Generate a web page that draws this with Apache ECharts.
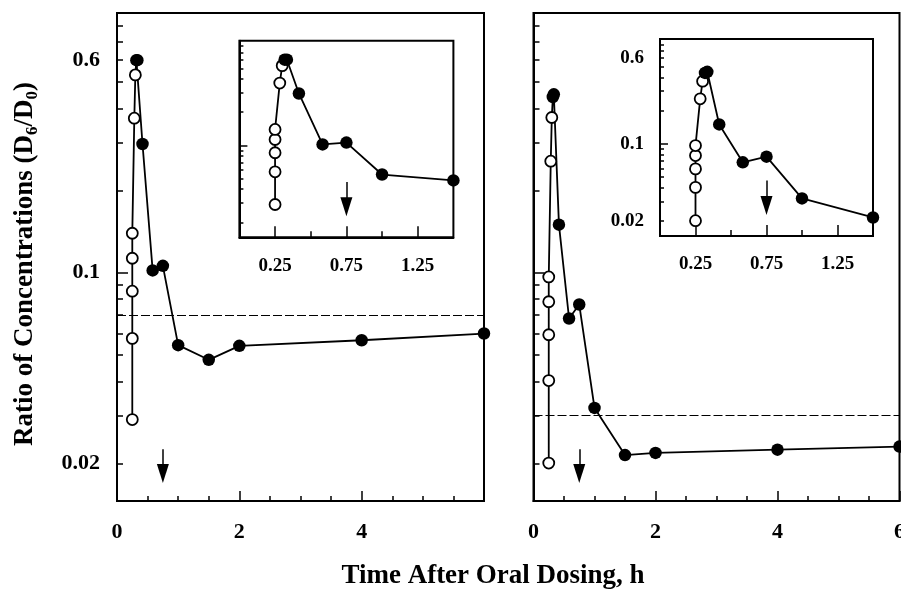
<!DOCTYPE html>
<html><head><meta charset="utf-8">
<script src="https://cdn.jsdelivr.net/npm/echarts@6/dist/echarts.min.js"></script>
<style>html,body{margin:0;padding:0;background:#fff}#c{width:901px;height:592px}</style>
</head><body><div id="c"></div>
<script>
// ---------- data ----------
// Left panel
const leftOpenT   = [0.25, 0.25, 0.25, 0.25, 0.25, 0.283, 0.30];
const leftOpenV   = [0.029, 0.0575, 0.0856, 0.113, 0.1395, 0.368, 0.53];
const leftFilledT = [0.317, 0.333, 0.417, 0.583, 0.75, 1.0, 1.5, 2, 4, 6];
const leftFilledV = [0.60, 0.60, 0.296, 0.102, 0.106, 0.0543, 0.048, 0.054, 0.0566, 0.0599];
const leftDashedV = 0.068;
// Right panel
const rightOpenT   = [0.25, 0.25, 0.25, 0.25, 0.25, 0.283, 0.30];
const rightOpenV   = [0.0201, 0.0403, 0.0593, 0.0783, 0.0965, 0.256, 0.37];
const rightFilledT = [0.317, 0.333, 0.417, 0.583, 0.75, 1.0, 1.5, 2, 4, 6];
const rightFilledV = [0.44, 0.45, 0.15, 0.068, 0.0765, 0.032, 0.0215, 0.0219, 0.0225, 0.0231];
const rightDashedV = 0.0306;
// Arrow (time marker) : time, start value, head-centre value
const arrowT = 0.75;
const mainArrowV  = [0.0226, 0.0184];
const insetArrowV = [0.0465, 0.0276];
// Axis ticks / labels
const mainXLabels   = [0, 2, 4, 6];
const insetXLabels  = [0.25, 0.75, 1.25];
const insetXMinor   = [0.5, 1.0];
const yLabels       = [0.6, 0.1, 0.02];
const yMinorTicks   = [0.02, 0.03, 0.04, 0.05, 0.06, 0.07, 0.08, 0.09, 0.2, 0.3, 0.4, 0.5, 0.6, 0.7, 0.8];
const yMajorTicks   = [0.1];
const yRange        = [0.0146, 0.893];
const mainXRange    = [0, 6];
const insetXRange   = [0, 1.5];
const xTitle = 'Time After Oral Dosing, h';

// ---------- chart ----------
const FONT = 'Liberation Serif';
const BLACK = '#000';
const LW = 1.8;
function pts(ts, vs) { return ts.map((t, i) => [t, vs[i]]); }
function fmt(v) { return String(parseFloat(Number(v).toPrecision(6))); }

const grids = [
  { left: 117, top: 13, width: 367, height: 488 },     // left main
  { left: 533.5, top: 13, width: 366, height: 488 },   // right main
  { left: 239.4, top: 40.7, width: 214, height: 196.6 }, // left inset
  { left: 660, top: 39, width: 213, height: 197 }      // right inset
].map(g => Object.assign({ show: true, borderColor: BLACK, borderWidth: 2, backgroundColor: 'transparent',
  containLabel: false, outerBoundsMode: 'none' }, g));

function mainX(gi, showMax) {
  return {
    type: 'value', gridIndex: gi, min: mainXRange[0], max: mainXRange[1], interval: 2,
    axisLine: { show: true, onZero: false, lineStyle: { color: BLACK, width: 2 } },
    axisTick: { show: true, inside: true, length: 10, lineStyle: { color: BLACK, width: 1.5 }, customValues: mainXLabels },
    minorTick: { show: true, splitNumber: 4, length: 5, lineStyle: { color: BLACK, width: 1.5 } },
    axisLabel: { show: true, customValues: showMax ? mainXLabels : mainXLabels.slice(0, -1), formatter: fmt, margin: 20,
      color: BLACK, fontFamily: FONT, fontWeight: 'bold', fontSize: 22, hideOverlap: false },
    splitLine: { show: false }
  };
}
function insetX(gi, overlay) {
  return {
    type: 'value', gridIndex: gi, min: insetXRange[0], max: insetXRange[1], position: 'bottom', offset: 0,
    axisLine: { show: !overlay, onZero: false, lineStyle: { color: BLACK, width: 2 } },
    axisTick: { show: true, inside: true, length: overlay ? 6 : 11, lineStyle: { color: BLACK, width: 1.5 },
      customValues: overlay ? insetXMinor : insetXLabels },
    axisLabel: { show: !overlay, customValues: insetXLabels, formatter: v => Number(v).toFixed(2), margin: 19,
      color: BLACK, fontFamily: FONT, fontWeight: 'bold', fontSize: 19 },
    splitLine: { show: false }
  };
}
function yAx(gi, showLabel, inset, overlay, extra) {
  return Object.assign({
    type: 'log', logBase: 10, gridIndex: gi, min: yRange[0], max: yRange[1], position: 'left', offset: 0,
    axisLine: { show: !overlay, onZero: false, lineStyle: { color: BLACK, width: 2 } },
    axisTick: { show: true, inside: true, length: overlay ? (inset ? 8 : 11) : (inset ? 4 : 6),
      lineStyle: { color: BLACK, width: 1.5 }, customValues: overlay ? yMajorTicks : yMinorTicks },
    axisLabel: { show: showLabel && !overlay, customValues: yLabels, formatter: fmt, margin: inset ? 16 : 17,
      color: BLACK, fontFamily: FONT, fontWeight: 'bold', fontSize: inset ? 19 : 22 },
    splitLine: { show: false }, minorTick: { show: false }
  }, extra || {});
}

const xAxes = [mainX(0, false), mainX(1, true), insetX(2, false), insetX(3, false), insetX(2, true), insetX(3, true)];
const yAxes = [
  yAx(0, true, false, false, {
    name: 'Ratio of Concentrations (D{sub|6}/D{sub|0})', nameLocation: 'middle', nameRotate: 90, nameGap: 76,
    nameTextStyle: { color: BLACK, fontFamily: FONT, fontWeight: 'bold', fontSize: 27, padding: [0, 14, 0, 0],
      rich: { sub: { fontFamily: FONT, fontWeight: 'bold', fontSize: 17, padding: [14, 0, 0, 0], color: BLACK } } }
  }),
  yAx(1, false, false, false),
  yAx(2, false, true, false),
  yAx(3, true, true, false),
  yAx(0, false, false, true), yAx(1, false, false, true), yAx(2, false, true, true), yAx(3, false, true, true)
];

function arrowLine(arrV) {
  return {
    silent: true, symbol: ['none', 'none'], label: { show: false },
    lineStyle: { color: BLACK, width: 1.5, type: 'solid' },
    data: [[{ coord: [arrowT, arrV[0]], symbol: 'none' },
            { coord: [arrowT, arrV[1]], symbol: 'triangle', symbolSize: [12, 19] }]]
  };
}
function dashedLine(v) {
  return {
    silent: true, symbol: ['none', 'none'], label: { show: false },
    lineStyle: { color: BLACK, width: 1.2, type: [9, 3] },
    data: [{ yAxis: v }]
  };
}
function panel(xi, yi, oT, oV, fT, fV, arrV, dashV) {
  const all = pts(oT, oV).concat(pts(fT, fV));
  const line = { type: 'line', xAxisIndex: xi, yAxisIndex: yi, data: all, symbol: 'none', showSymbol: false,
    lineStyle: { color: BLACK, width: LW }, z: 3, silent: true };
  if (dashV != null) line.markLine = dashedLine(dashV);
  return [
    line,
    { type: 'scatter', xAxisIndex: xi, yAxisIndex: yi, data: pts(oT, oV), symbol: 'circle', symbolSize: 11,
      itemStyle: { color: '#fff', borderColor: BLACK, borderWidth: LW, opacity: 1 }, z: 4, silent: true },
    { type: 'scatter', xAxisIndex: xi, yAxisIndex: yi, data: pts(fT, fV), symbol: 'circle', symbolSize: 12.5,
      itemStyle: { color: BLACK, opacity: 1 }, z: 5, silent: true, markLine: arrowLine(arrV) }
  ];
}

const inLeftT = leftFilledT.filter(t => t <= insetXRange[1]);
const inLeftV = leftFilledV.slice(0, inLeftT.length);
const inRightT = rightFilledT.filter(t => t <= insetXRange[1]);
const inRightV = rightFilledV.slice(0, inRightT.length);

const series = [].concat(
  panel(0, 0, leftOpenT, leftOpenV, leftFilledT, leftFilledV, mainArrowV, leftDashedV),
  panel(1, 1, rightOpenT, rightOpenV, rightFilledT, rightFilledV, mainArrowV, rightDashedV),
  panel(2, 2, leftOpenT, leftOpenV, inLeftT, inLeftV, insetArrowV, null),
  panel(3, 3, rightOpenT, rightOpenV, inRightT, inRightV, insetArrowV, null)
);

const chart = echarts.init(document.getElementById('c'), null, { renderer: 'canvas' });
chart.setOption({
  animation: false,
  backgroundColor: '#fff',
  grid: grids,
  xAxis: xAxes,
  yAxis: yAxes,
  series: series,
  graphic: [{
    type: 'text', x: 493, y: 576, silent: true,
    style: { text: xTitle, font: 'bold 27px "Liberation Serif"', fill: BLACK, align: 'center', verticalAlign: 'middle' }
  }]
});
</script>
</body></html>
